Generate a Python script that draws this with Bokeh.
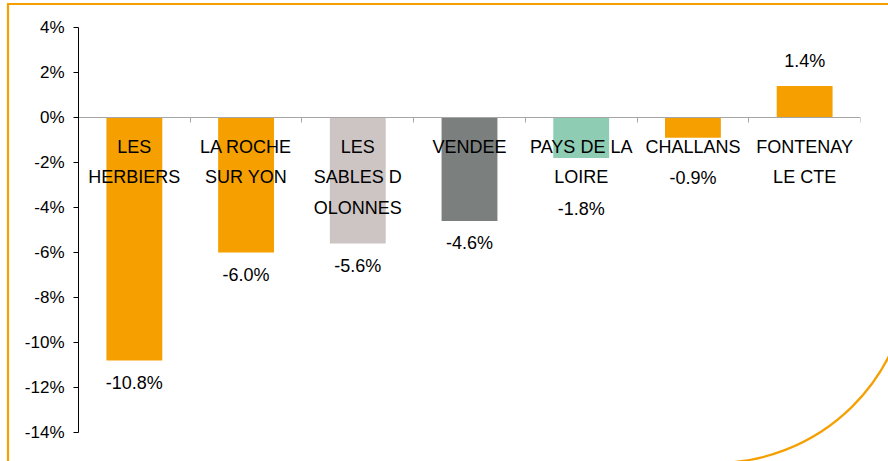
import math
from urllib.parse import quote
from bokeh.plotting import figure
from bokeh.models import (ColumnDataSource, Range1d, LinearAxis,
                          FixedTicker, PrintfTickFormatter)
from bokeh.core.properties import value
from bokeh.embed import file_html
from bokeh.resources import INLINE

# ---------------- data ----------------
categories = ["LES HERBIERS", "LA ROCHE SUR YON", "LES SABLES D OLONNES", "VENDEE",
              "PAYS DE LA LOIRE", "CHALLANS", "FONTENAY LE CTE"]
category_labels = ["LES\nHERBIERS", "LA ROCHE\nSUR YON", "LES\nSABLES D\nOLONNES", "VENDEE",
                   "PAYS DE LA\nLOIRE", "CHALLANS", "FONTENAY\nLE CTE"]
values = [-10.8, -6.0, -5.6, -4.6, -1.8, -0.9, 1.4]
bar_colors = ["#F5A000", "#F5A000", "#CDC4C4", "#7B7F7D", "#8ECCB3", "#F5A000", "#F5A000"]
y_ticks = [-14, -12, -10, -8, -6, -4, -2, 0, 2, 4]

# ---------------- layout ----------------
W, H = 888, 461
B_LEFT, B_RIGHT, B_TOP, B_BOTTOM = 78, 28, 27, 29
Y_MIN, Y_MAX = -14, 4
FONT = "Liberation Sans"
n_cat = len(categories)
x_pos = [i + 0.5 for i in range(n_cat)]  # category centres on an index scale

# decorative orange frame with a rounded bottom-right corner, as the page background
frame_svg = (
    f'<svg xmlns="http://www.w3.org/2000/svg" width="{W}" height="{H}">'
    '<path d="M 8 470 L 8 4 L 910 4 L 910 268 A 195 195 0 0 1 713 463 L 8 463 Z" '
    'fill="none" stroke="#F5A000" stroke-width="2.2"/></svg>'
)
bg = f'url("data:image/svg+xml;charset=utf-8,{quote(frame_svg)}") no-repeat 0 0'

p = figure(width=W, height=H, output_backend="svg", toolbar_location=None,
           x_range=Range1d(0, n_cat), y_range=Range1d(Y_MIN, Y_MAX),
           x_axis_type=None, y_axis_type=None,
           min_border_left=B_LEFT, min_border_right=B_RIGHT,
           min_border_top=B_TOP, min_border_bottom=B_BOTTOM)
p.outline_line_color = None
p.background_fill_color = None
p.border_fill_color = None
p.styles = {"background": bg, "background-color": "white"}

# y axis
yaxis = LinearAxis(ticker=FixedTicker(ticks=y_ticks),
                   formatter=PrintfTickFormatter(format="%d%%"))
yaxis.axis_line_color = "black"
yaxis.major_tick_line_color = "black"
yaxis.major_tick_out = 5
yaxis.major_tick_in = 0
yaxis.minor_tick_line_color = None
yaxis.major_label_standoff = 9
yaxis.major_label_text_font = FONT
yaxis.major_label_text_font_size = "17px"
yaxis.major_label_text_color = "black"
p.add_layout(yaxis, "left")

# x axis at zero with ticks between categories (category names drawn as text below)
x_ticks = list(range(n_cat + 1))
xaxis = LinearAxis(fixed_location=0, ticker=FixedTicker(ticks=x_ticks))
xaxis.axis_line_color = "#A6A6A6"
xaxis.major_tick_line_color = "#A6A6A6"
xaxis.major_tick_out = 5
xaxis.major_tick_in = 0
xaxis.minor_tick_line_color = None
xaxis.major_label_overrides = {t: "" for t in x_ticks}
xaxis.major_label_standoff = 0
p.add_layout(xaxis, "below")

# bars
src = ColumnDataSource(dict(x=x_pos, cat=categories, val=values, color=bar_colors))
p.vbar(x="x", top="val", bottom=0, width=0.5, fill_color="color",
       line_color=None, source=src, level="underlay")

# category labels under zero line
lab_src = ColumnDataSource(dict(x=x_pos, lab=category_labels, y=[0] * n_cat))
p.text(x="x", y="y", text="lab", source=lab_src, text_align="center",
       text_baseline="top", y_offset=19, text_font=value(FONT),
       text_font_size="18px", text_line_height=1.53, text_color="black")

# value labels
frame_h = H - B_TOP - B_BOTTOM
px_per_unit = frame_h / (Y_MAX - Y_MIN)
label_y = []
for v, lab in zip(values, category_labels):
    n = lab.count("\n") + 1
    if v >= 0:
        label_y.append(v + 25 / px_per_unit)
    else:
        label_y.append(min(v - 22 / px_per_unit, -(30 + 30.5 * n) / px_per_unit))
val_src = ColumnDataSource(dict(x=x_pos, y=label_y, txt=[f"{v:.1f}%" for v in values]))
p.text(x="x", y="y", text="txt", source=val_src, text_align="center",
       text_baseline="middle", text_font=value(FONT), text_font_size="18px",
       text_color="black")

open("out.html", "w").write(file_html(p, INLINE))
